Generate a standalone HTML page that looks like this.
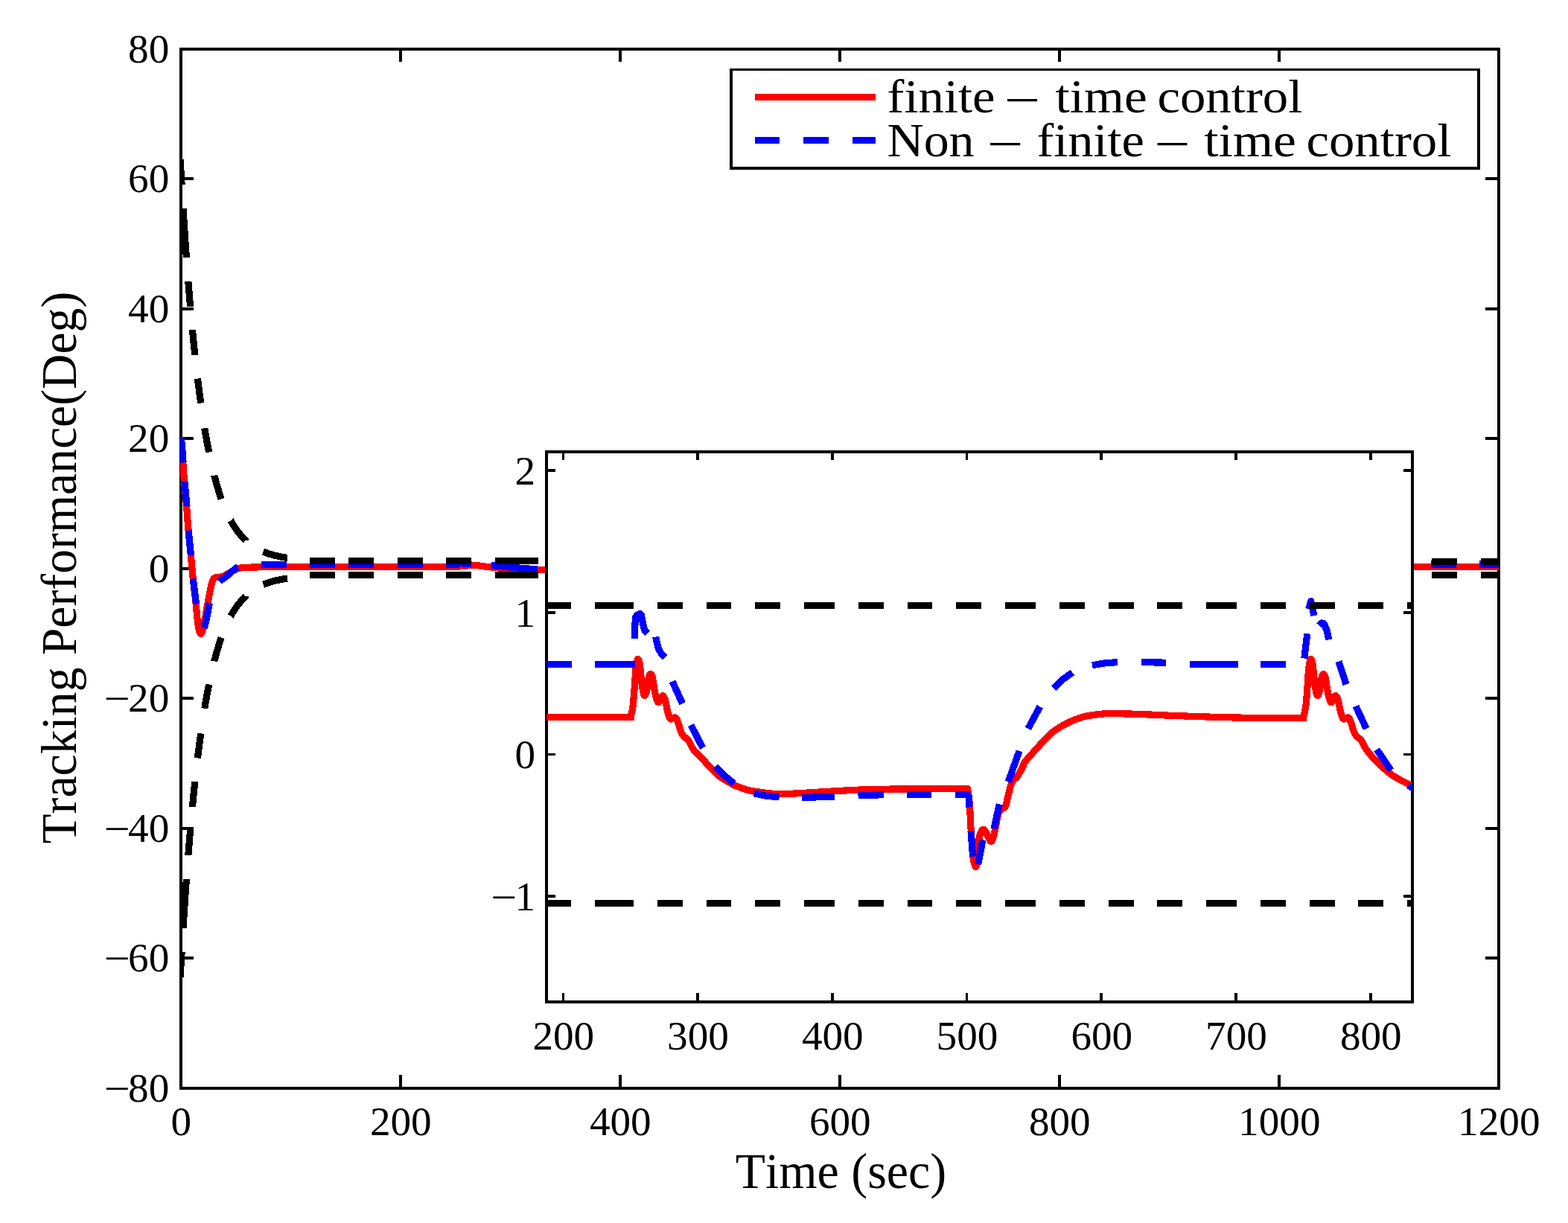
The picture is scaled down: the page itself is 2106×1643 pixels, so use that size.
<!DOCTYPE html>
<html lang="en">
<head>
<meta charset="utf-8">
<title>Tracking Performance - finite-time control vs non-finite-time control</title>
<style>
html, body { margin: 0; padding: 0; background: #ffffff; }
body { width: 2106px; height: 1643px; overflow: hidden; }
svg { display: block; }
svg text { font-family: "Liberation Serif", "DejaVu Serif", serif; white-space: pre; font-kerning: none; font-variant-ligatures: none; }
</style>
</head>
<body>
<svg width="2106" height="1643" viewBox="0 0 2106 1643">
<rect x="0" y="0" width="2106" height="1643" fill="#ffffff"/>
<defs>
<clipPath id="cm"><rect x="242" y="66" width="1771" height="1396"/></clipPath>
<clipPath id="ci"><rect x="734" y="607" width="1163" height="739"/></clipPath>
</defs>
<g id="main-axes" shape-rendering="crispEdges">
<path id="main-frame" fill="#000" d="M241 64H2015V68H241ZM241 1460H2015V1464H241ZM241 64H245V1464H241ZM2011 64H2015V1464H2011ZM536 1444H540V1462H536ZM536 66H540V83H536ZM831 1444H835V1462H831ZM831 66H835V83H831ZM1126 1444H1130V1462H1126ZM1126 66H1130V83H1126ZM1421 1444H1425V1462H1421ZM1421 66H1425V83H1421ZM1716 1444H1720V1462H1716ZM1716 66H1720V83H1716ZM243 238H260V242H243ZM1995 238H2013V242H1995ZM243 413H260V417H243ZM1995 413H2013V417H1995ZM243 587H260V591H243ZM1995 587H2013V591H1995ZM243 762H260V766H243ZM1995 762H2013V766H1995ZM243 936H260V940H243ZM1995 936H2013V940H1995ZM243 1111H260V1115H243ZM1995 1111H2013V1115H1995ZM243 1285H260V1289H243ZM1995 1285H2013V1289H1995Z"/>
<g id="main-curves" clip-path="url(#cm)" stroke-linejoin="round">
<path d="M243 588 L243.2 590.2 L243.5 593.1 L243.8 596.7 L244.2 600.7 L244.6 605.2 L245 610 L245.4 615.3 L245.8 621.4 L246.2 627.8 L246.7 634.4 L247.1 640.9 L247.6 647 L248.1 652.7 L248.6 658.3 L249.1 663.8 L249.6 669.2 L250.1 674.6 L250.6 680 L251 685.4 L251.4 690.8 L251.8 696.2 L252.2 701.6 L252.6 707 L253.1 712.5 L253.6 718 L254.1 723.6 L254.7 729.2 L255.2 734.8 L255.8 740.3 L256.3 745.8 L256.8 751.2 L257.3 756.6 L257.8 761.9 L258.3 767.2 L258.8 772.3 L259.3 777.4 L259.8 782.4 L260.4 787.4 L261 792.4 L261.6 797.1 L262.1 801.7 L262.6 806 L263 810 L263.4 813.7 L263.7 817.3 L264 820.7 L264.3 823.9 L264.6 827 L264.9 830 L265.2 833 L265.6 835.8 L265.9 838.4 L266.2 840.8 L266.6 843 L267 845 L267.5 846.9 L267.9 848.5 L268.4 849.9 L268.9 850.9 L269.4 851.3 L269.9 851.3 L270.4 850.9 L270.9 850.1 L271.4 848.9 L272 847.2 L272.6 845 L273.3 842.1 L274 838.6 L274.7 834.6 L275.5 830.4 L276.3 826.1 L277 822 L277.7 818 L278.5 813.8 L279.2 809.6 L279.9 805.5 L280.6 801.6 L281.3 798 L282 794.6 L282.7 791.4 L283.3 788.3 L284 785.5 L284.6 783 L285.2 781 L285.8 779.4 L286.3 778.3 L286.8 777.6 L287.3 777 L287.9 776.6 L288.5 776.2 L289.2 775.9 L289.9 775.7 L290.7 775.6 L291.5 775.6 L292.4 775.6 L293.3 775.5 L294.3 775.3 L295.3 775.2 L296.3 775 L297.5 774.8 L298.7 774.5 L300 774 L301.5 773.3 L303.1 772.4 L304.8 771.5 L306.5 770.4 L308.3 769.4 L310 768.5 L311.7 767.6 L313.4 766.7 L315.1 765.7 L316.9 764.9 L318.7 764.1 L320.6 763.5 L322.5 763.1 L324.5 762.8 L326.6 762.6 L328.7 762.5 L330.8 762.4 L333 762.3 L335 762.2 L336.8 762.1 L338.6 762 L340.7 762 L343.4 762 L346.8 761.9 L351.1 761.8 L356 761.8 L361.5 761.7 L367.4 761.6 L373.6 761.5 L380 761.5 L387.3 761.5 L395.7 761.5 L404.4 761.5 L412.7 761.5 L419.7 761.5 L424.7 761.5 L600 761.5 L616 761.5 L620 759.5 L624 760.5 L632 759 L640 759.5 L655 761.5 L670 763 L690 764.5 L725 765.8 L740 766" stroke="#ff0000" stroke-width="9.2" fill="none" />
<path d="M1890 761.5 L2015 761.5" stroke="#ff0000" stroke-width="9.2" fill="none" />
<path d="M243.2 587 L243.4 589.3 L243.7 592.4 L244.1 596.2 L244.5 600.4 L244.9 605.1 L245.3 610 L245.7 615.4 L246.1 621.4" stroke="#0000ff" stroke-width="9.2" fill="none" />
<path d="M248 647 L248.5 652.7 L249 658.3 L249.5 663.8 L250 669.2 L250.5 674.6 L251 680" stroke="#0000ff" stroke-width="9.2" fill="none" />
<path d="M253.2 712.5 L253.7 718 L254.2 723.6 L254.8 729.2 L255.3 734.8 L255.9 740.3 L256.4 745.8" stroke="#0000ff" stroke-width="9.2" fill="none" />
<path d="M259.4 777.4 L260 783 L260.7 788.9 L261.5 794.9 L262.2 800.8 L262.9 806.3 L263.6 811.5" stroke="#0000ff" stroke-width="9.2" fill="none" />
<path d="M274.3 843.7 L274.9 841.7 L275.5 839.4 L276.2 836.7 L276.8 833.8 L277.4 830.9 L278 828 L278.6 825.1 L279.1 822.2 L279.7 819.1 L280.3 816.1 L280.9 813 L281.6 810" stroke="#0000ff" stroke-width="9.2" fill="none" />
<path d="M294.7 781.3 L296.2 779.9 L297.8 778.6 L299.4 777.5 L301.2 776.3 L303 775 L305 773.5 L307.2 771.7 L309.5 769.6 L312 767.4 L314.5 765.2 L317.1 763.3 L319.6 761.9" stroke="#0000ff" stroke-width="9.2" fill="none" />
<path d="M351 758.8 L355.6 758.7 L361 758.7 L366.8 758.6 L372.9 758.6 L379.1 758.5 L385 758.5" stroke="#0000ff" stroke-width="9.2" fill="none" />
<path d="M416 758.5 L450 758.5" stroke="#0000ff" stroke-width="9.2" fill="none" />
<path d="M468 758.5 L502 758.5" stroke="#0000ff" stroke-width="9.2" fill="none" />
<path d="M534 758.5 L568 758.5" stroke="#0000ff" stroke-width="9.2" fill="none" />
<path d="M599 758.5 L614 758.5 L619.5 753.5 L623 757.5 L633 757" stroke="#0000ff" stroke-width="9.2" fill="none" />
<path d="M660 759.5 L690 762.5 L722 765" stroke="#0000ff" stroke-width="9.2" fill="none" />
<path d="M1922 758 L1956 758" stroke="#0000ff" stroke-width="9.2" fill="none" />
<path d="M1987 758 L2016 758" stroke="#0000ff" stroke-width="9.2" fill="none" />
<path d="M242.1 214 L242.8 226.8 L243.6 239.8 L244.1 248" stroke="#000000" stroke-width="9.2" fill="none" />
<path d="M242.1 1313 L242.8 1300.2 L243.6 1287.2 L244.1 1279" stroke="#000000" stroke-width="9.2" fill="none" />
<path d="M246 280 L246.5 288.7 L247.3 300.1 L248 311.3 L248.7 322.2 L249.5 332.9 L250.2 343.3 L250.4 346" stroke="#000000" stroke-width="9.2" fill="none" />
<path d="M246 1247 L246.5 1238.3 L247.3 1226.9 L248 1215.7 L248.7 1204.8 L249.5 1194.1 L250.2 1183.7 L250.4 1181" stroke="#000000" stroke-width="9.2" fill="none" />
<path d="M252.8 378 L253.2 382.3 L253.9 391.5 L254.6 400.4 L255.4 409.1 L255.6 412" stroke="#000000" stroke-width="9.2" fill="none" />
<path d="M252.8 1149 L253.2 1144.7 L253.9 1135.5 L254.6 1126.6 L255.4 1117.9 L255.6 1115" stroke="#000000" stroke-width="9.2" fill="none" />
<path d="M258.4 443 L259.1 449.6 L259.8 457.1 L260.5 464.4 L261.3 471.6 L261.9 477" stroke="#000000" stroke-width="9.2" fill="none" />
<path d="M258.4 1084 L259.1 1077.4 L259.8 1069.9 L260.5 1062.6 L261.3 1055.4 L261.9 1050" stroke="#000000" stroke-width="9.2" fill="none" />
<path d="M265.4 508.6 L265.7 510.8 L266.4 516.8 L267.2 522.7 L267.9 528.4 L268.7 533.9 L269.4 539.3 L269.7 541.6" stroke="#000000" stroke-width="9.2" fill="none" />
<path d="M265.4 1018.4 L265.7 1016.2 L266.4 1010.2 L267.2 1004.3 L267.9 998.6 L268.7 993.1 L269.4 987.7 L269.7 985.4" stroke="#000000" stroke-width="9.2" fill="none" />
<path d="M274.8 575.2 L275.3 578.2 L276 582.5 L276.8 586.7 L277.5 590.8 L278.2 594.9 L279 598.8 L279.7 602.6 L280.5 606.3 L280.7 607.6" stroke="#000000" stroke-width="9.2" fill="none" />
<path d="M274.8 951.8 L275.3 948.8 L276 944.5 L276.8 940.3 L277.5 936.2 L278.2 932.1 L279 928.2 L279.7 924.4 L280.5 920.7 L280.7 919.4" stroke="#000000" stroke-width="9.2" fill="none" />
<path d="M287.8 638.6 L287.8 638.9 L288.6 641.7 L289.3 644.5 L290 647.2 L290.8 649.8 L291.5 652.3 L292.2 654.8 L293 657.3 L293.7 659.7 L294.5 662 L295.2 664.2 L295.9 666.4 L296.7 668.6 L297.3 670.5" stroke="#000000" stroke-width="9.2" fill="none" />
<path d="M287.8 888.4 L287.8 888.1 L288.6 885.3 L289.3 882.5 L290 879.8 L290.8 877.2 L291.5 874.7 L292.2 872.2 L293 869.7 L293.7 867.3 L294.5 865 L295.2 862.8 L295.9 860.6 L296.7 858.4 L297.3 856.5" stroke="#000000" stroke-width="9.2" fill="none" />
<path d="M309.9 699.3 L310 699.4 L310.7 700.7 L311.4 702 L312.2 703.3 L312.9 704.5 L313.6 705.7 L314.4 706.9 L315.1 708 L315.9 709.2 L316.6 710.3 L317.3 711.3 L318.1 712.4 L318.8 713.4 L319.5 714.4 L320.3 715.3 L321 716.3 L321.8 717.2 L322.5 718.1 L323.2 719 L324 719.8 L324.7 720.7 L325.4 721.5 L326.2 722.3 L326.9 723 L327.7 723.8 L328.4 724.5 L329.1 725.2 L329.9 725.9 L329.9 726" stroke="#000000" stroke-width="9.2" fill="none" />
<path d="M309.9 827.7 L310 827.6 L310.7 826.3 L311.4 825 L312.2 823.7 L312.9 822.5 L313.6 821.3 L314.4 820.1 L315.1 819 L315.9 817.8 L316.6 816.7 L317.3 815.7 L318.1 814.6 L318.8 813.6 L319.5 812.6 L320.3 811.7 L321 810.7 L321.8 809.8 L322.5 808.9 L323.2 808 L324 807.2 L324.7 806.3 L325.4 805.5 L326.2 804.7 L326.9 804 L327.7 803.2 L328.4 802.5 L329.1 801.8 L329.9 801.1 L329.9 801" stroke="#000000" stroke-width="9.2" fill="none" />
<path d="M353.6 741.2 L354.2 741.4 L354.9 741.7 L355.7 742 L356.4 742.3 L357.2 742.6 L357.9 742.8 L358.6 743.1 L359.4 743.4 L360.1 743.6 L360.8 743.9 L361.6 744.1 L362.3 744.3 L363.1 744.6 L363.8 744.8 L364.5 745 L365.3 745.2 L366 745.4 L366.7 745.6 L367.5 745.8 L368.2 746 L369 746.2 L369.7 746.4 L370.4 746.5 L371.2 746.7 L371.9 746.9 L372.6 747 L373.4 747.2 L374.1 747.4 L374.9 747.5 L375.6 747.7 L376.3 747.8 L377.1 747.9 L377.8 748.1 L378.5 748.2 L379.3 748.3 L380 748.5 L380.8 748.6 L381.5 748.7 L382.2 748.8 L383 748.9 L383.7 749.1 L384.4 749.2 L385.2 749.3 L385.9 749.4 L386 749.4" stroke="#000000" stroke-width="9.2" fill="none" />
<path d="M353.6 785.3 L354.2 785.1 L354.9 784.8 L355.7 784.5 L356.4 784.2 L357.2 783.9 L357.9 783.7 L358.6 783.4 L359.4 783.1 L360.1 782.9 L360.8 782.6 L361.6 782.4 L362.3 782.2 L363.1 781.9 L363.8 781.7 L364.5 781.5 L365.3 781.3 L366 781.1 L366.7 780.9 L367.5 780.7 L368.2 780.5 L369 780.3 L369.7 780.1 L370.4 780 L371.2 779.8 L371.9 779.6 L372.6 779.5 L373.4 779.3 L374.1 779.1 L374.9 779 L375.6 778.8 L376.3 778.7 L377.1 778.6 L377.8 778.4 L378.5 778.3 L379.3 778.2 L380 778 L380.8 777.9 L381.5 777.8 L382.2 777.7 L383 777.6 L383.7 777.4 L384.4 777.3 L385.2 777.2 L385.9 777.1 L386 777.1" stroke="#000000" stroke-width="9.2" fill="none" />
<path d="M416 753.5 L450 753.5" stroke="#000000" stroke-width="9.2" fill="none" />
<path d="M416 772.5 L450 772.5" stroke="#000000" stroke-width="9.2" fill="none" />
<path d="M468 753.5 L502 753.5" stroke="#000000" stroke-width="9.2" fill="none" />
<path d="M468 772.5 L502 772.5" stroke="#000000" stroke-width="9.2" fill="none" />
<path d="M534 753.5 L568 753.5" stroke="#000000" stroke-width="9.2" fill="none" />
<path d="M534 772.5 L568 772.5" stroke="#000000" stroke-width="9.2" fill="none" />
<path d="M599 753.5 L633 753.5" stroke="#000000" stroke-width="9.2" fill="none" />
<path d="M599 772.5 L633 772.5" stroke="#000000" stroke-width="9.2" fill="none" />
<path d="M665 753.5 L723 753.5" stroke="#000000" stroke-width="9.2" fill="none" />
<path d="M665 772.5 L723 772.5" stroke="#000000" stroke-width="9.2" fill="none" />
<path d="M1923 754.5 L1957 754.5" stroke="#000000" stroke-width="9.2" fill="none" />
<path d="M1923 772.5 L1957 772.5" stroke="#000000" stroke-width="9.2" fill="none" />
<path d="M1989 754.5 L2016 754.5" stroke="#000000" stroke-width="9.2" fill="none" />
<path d="M1989 772.5 L2016 772.5" stroke="#000000" stroke-width="9.2" fill="none" />
</g>
</g>
<g id="inset-axes" shape-rendering="crispEdges">
<rect x="732" y="605" width="1167" height="743" fill="#fff"/>
<path id="inset-frame" fill="#000" d="M732 605H1899V609H732ZM732 1344H1899V1348H732ZM732 605H736V1348H732ZM1895 605H1899V1348H1895ZM755 1334H758V1346H755ZM755 607H758V618H755ZM935 1334H939V1346H935ZM935 607H939V618H935ZM1116 1334H1120V1346H1116ZM1116 607H1120V618H1116ZM1297 1334H1300V1346H1297ZM1297 607H1300V618H1297ZM1477 1334H1481V1346H1477ZM1477 607H1481V618H1477ZM1658 1334H1662V1346H1658ZM1658 607H1662V618H1658ZM1839 1334H1843V1346H1839ZM1839 607H1843V618H1839ZM734 630H746V634H734ZM1885 630H1897V634H1885ZM734 821H746V825H734ZM1885 821H1897V825H1885ZM734 1012H746V1015H734ZM1885 1012H1897V1015H1885ZM734 1202H746V1206H734ZM1885 1202H1897V1206H1885Z"/>
<g id="inset-curves" clip-path="url(#ci)" stroke-linejoin="round">
<path d="M730 963.7 L846.9 963.7 L847.3 961.8 L848 959.3 L848.7 956.2 L849.4 952.7 L850 949 L850.5 944.9 L850.9 940.2 L851.3 935.3 L851.7 930.3 L852.1 925.4 L852.5 920.5 L852.8 915.3 L853.1 910.3 L853.4 905.6 L853.7 901.6 L854 898.4 L854.3 895.7 L854.7 893.6 L855 891.7 L855.3 890 L855.6 888.5 L855.9 887.1 L856.1 886.1 L856.4 885.5 L856.8 885.4 L857.2 885.7 L857.7 886.3 L858.2 887.4 L858.7 889.3 L859.2 892 L859.7 896.1 L860.3 901.5 L860.8 907.4 L861.4 913.1 L862 918 L862.6 922.2 L863.3 926.2 L864 929.7 L864.6 932.4 L865.3 934 L865.9 934.4 L866.6 933.8 L867.2 932.3 L867.9 930.3 L868.5 928 L869.1 925 L869.7 921 L870.4 916.8 L870.9 912.9 L871.5 910 L872 908.1 L872.5 906.7 L872.9 905.9 L873.3 905.5 L873.8 905.5 L874.3 905.7 L874.8 906.2 L875.3 907.2 L875.9 908.7 L876.5 911 L877.1 914.4 L877.8 918.7 L878.5 923.5 L879.3 928.2 L880 932 L880.8 935.1 L881.5 938 L882.3 940.4 L883.1 942.3 L883.8 943.5 L884.5 943.8 L885.1 943.3 L885.7 942.2 L886.4 941.1 L887 940 L887.6 938.9 L888.3 937.5 L888.9 936.1 L889.6 935 L890.2 934.7 L890.9 935.1 L891.5 935.9 L892.2 937.2 L892.8 938.9 L893.5 941 L894.2 943.7 L894.9 947.1 L895.6 950.7 L896.3 954.1 L897 957 L897.6 959.3 L898.3 961.4 L898.9 963.2 L899.5 964.6 L900.2 965.6 L900.9 966 L901.7 965.8 L902.4 965.3 L903.2 964.8 L904 964.5 L904.8 964.3 L905.6 964.1 L906.4 963.9 L907.2 964 L908 964.6 L908.7 965.7 L909.4 967.2 L910.1 969.1 L910.8 971 L911.5 973 L912.2 975.1 L912.9 977.4 L913.6 979.7 L914.3 981.9 L915 983.8 L915.8 985.4 L916.5 986.7 L917.3 987.9 L918.1 989 L919 990 L919.9 990.8 L920.8 991.2 L921.7 991.7 L922.8 992.4 L924 993.8 L925.4 996 L926.9 998.9 L928.5 1002 L930.2 1005.1 L932 1007.8 L933.9 1010 L935.9 1012 L937.9 1013.9 L940 1015.8 L942 1017.8 L943.9 1019.9 L945.8 1021.9 L947.6 1024.1 L949.7 1026.3 L951.9 1028.7 L954.3 1031.3 L956.9 1034.2 L959.7 1037.1 L962.7 1040 L965.9 1042.7 L969.8 1045.4 L974.4 1048.2 L979 1050.9 L983 1053.1 L985.8 1054.7 L989.1 1056 L993.8 1057.8 L999 1059.8 L1003.8 1061.3 L1007.8 1062.3 L1011.7 1062.9 L1015.6 1063.4 L1019.8 1064 L1024.5 1064.7 L1029.5 1065.3 L1034.6 1065.9 L1039.7 1066.3 L1044.2 1066.5 L1048.5 1066.6 L1053.3 1066.6 L1059.7 1066.4 L1067.8 1066 L1077.2 1065.5 L1087.8 1064.8 L1099.6 1064.1 L1113.2 1063.3 L1128.3 1062.4 L1144.1 1061.5 L1159.5 1060.8 L1174 1060.4 L1188.2 1060.2 L1203 1060 L1219.4 1059.9 L1239.8 1059.7 L1263 1059.6 L1284.4 1059.5 L1299.2 1059.4 L1299.6 1059.4 L1299.8 1060.9 L1300.1 1063.1 L1300.5 1065.7 L1300.9 1068.4 L1301.2 1071 L1301.5 1073.3 L1301.8 1075.3 L1302 1077.6 L1302.3 1080.5 L1302.6 1084.5 L1302.9 1089.8 L1303.2 1096.3 L1303.5 1103.3 L1303.9 1110.6 L1304.3 1117.6 L1304.8 1124.8 L1305.4 1132.4 L1305.9 1139.8 L1306.5 1146.5 L1307 1151.7 L1307.4 1155.2 L1307.8 1157.3 L1308.1 1158.6 L1308.4 1159.5 L1308.8 1160.5 L1309.2 1161.8 L1309.7 1163.1 L1310.2 1164.1 L1310.7 1164.6 L1311.1 1164.2 L1311.5 1163 L1311.9 1161 L1312.3 1158.5 L1312.6 1155.4 L1313 1152 L1313.4 1147.7 L1313.7 1142.6 L1314.1 1137.2 L1314.4 1132.2 L1314.9 1128 L1315.4 1124.8 L1316 1122.3 L1316.7 1120.2 L1317.3 1118.4 L1318 1117 L1318.7 1115.8 L1319.4 1115 L1320.2 1114.4 L1321 1114.3 L1321.8 1114.6 L1322.6 1115.4 L1323.5 1116.8 L1324.4 1118.5 L1325.3 1120.3 L1326.2 1122 L1327.1 1123.9 L1328.1 1126 L1329 1128.1 L1329.9 1129.7 L1330.8 1130.4 L1331.6 1130.1 L1332.4 1129.1 L1333.2 1127.5 L1333.9 1125.7 L1334.5 1124 L1335 1122.4 L1335.4 1120.8 L1335.7 1119 L1336.1 1116.9 L1336.6 1114.3 L1337.2 1110.9 L1338 1106.7 L1338.8 1102.3 L1339.6 1098.3 L1340.4 1095 L1341.2 1092.7 L1341.9 1091 L1342.7 1089.7 L1343.6 1088.6 L1344.5 1087.5 L1345.6 1086.6 L1346.9 1085.9 L1348.2 1085.3 L1349.4 1084.5 L1350.5 1083 L1351.3 1080.9 L1352 1078.3 L1352.6 1075.3 L1353.2 1072.2 L1354 1069 L1354.9 1065.5 L1355.9 1061.6 L1356.9 1057.7 L1358.1 1054 L1359.3 1051 L1360.6 1048.8 L1362.1 1047.3 L1363.6 1046.1 L1365.1 1044.8 L1366.6 1043 L1368.1 1040.6 L1369.7 1037.9 L1371.3 1035 L1372.7 1032.3 L1373.9 1030 L1374.5 1028.5 L1374.6 1027.5 L1374.7 1026.6 L1375.3 1025.4 L1376.8 1023.2 L1379.5 1019.9 L1383.1 1015.8 L1387.2 1011.3 L1391.3 1006.7 L1395.2 1002.5 L1398.7 998.6 L1402.1 994.8 L1405.6 991.1 L1409.1 987.6 L1412.8 984.3 L1416.7 981.3 L1420.9 978.5 L1425.1 976 L1429.3 973.6 L1433.5 971.4 L1437.6 969.4 L1441.8 967.6 L1445.9 966 L1450.1 964.6 L1454.2 963.3 L1458.4 962.2 L1462.7 961.4 L1467 960.7 L1471.1 960.2 L1474.9 959.7 L1478 959.3 L1480.4 959.1 L1482.8 958.9 L1485.8 958.8 L1490 958.8 L1495.4 958.8 L1501.4 958.8 L1508.3 958.9 L1516.3 959 L1525.6 959.3 L1536.5 959.7 L1548.8 960.2 L1562.1 960.8 L1575.9 961.4 L1589.6 961.9 L1603 962.4 L1616.6 962.8 L1630.5 963.3 L1645 963.7 L1660.4 964 L1678.4 964.3 L1698.7 964.5 L1719 964.6 L1736.5 964.7 L1748.8 964.8 L1750.4 964.8 L1750.9 962.8 L1751.6 960 L1752.3 956.6 L1753.1 952.9 L1753.8 949 L1754.3 944.8 L1754.7 940.1 L1755.1 935.2 L1755.5 930.3 L1755.8 925.4 L1756.2 920.5 L1756.5 915.3 L1756.8 910.3 L1757.1 905.6 L1757.5 901.6 L1757.8 898.4 L1758.1 895.7 L1758.4 893.6 L1758.7 891.7 L1759 890 L1759.3 888.5 L1759.6 887.1 L1759.9 886.1 L1760.2 885.5 L1760.5 885.4 L1761 885.7 L1761.4 886.3 L1761.9 887.4 L1762.4 889.3 L1763 892 L1763.5 896.1 L1764 901.5 L1764.6 907.4 L1765.2 913.1 L1765.8 918 L1766.4 922.2 L1767 926.2 L1767.7 929.7 L1768.4 932.4 L1769 934 L1769.7 934.4 L1770.3 933.8 L1771 932.3 L1771.6 930.3 L1772.2 928 L1772.9 925 L1773.5 921 L1774.1 916.8 L1774.7 912.9 L1775.2 910 L1775.7 908.1 L1776.2 906.7 L1776.6 905.9 L1777.1 905.5 L1777.5 905.5 L1778.1 905.7 L1778.6 906.2 L1779.1 907.2 L1779.7 908.7 L1780.2 911 L1780.9 914.4 L1781.6 918.7 L1782.3 923.5 L1783 928.2 L1783.8 932 L1784.5 935.1 L1785.3 938 L1786.1 940.4 L1786.8 942.3 L1787.5 943.5 L1788.2 943.8 L1788.9 943.3 L1789.5 942.2 L1790.1 941.1 L1790.8 940 L1791.4 938.9 L1792 937.5 L1792.7 936.1 L1793.3 935 L1794 934.7 L1794.6 935.1 L1795.3 935.9 L1795.9 937.2 L1796.6 938.9 L1797.2 941 L1797.9 943.7 L1798.6 947.1 L1799.4 950.7 L1800.1 954.1 L1800.8 957 L1801.4 959.3 L1802 961.4 L1802.6 963.2 L1803.3 964.6 L1804 965.6 L1804.7 966 L1805.4 965.8 L1806.2 965.3 L1807 964.8 L1807.8 964.5 L1808.5 964.3 L1809.4 964.1 L1810.2 963.9 L1811 964 L1811.8 964.6 L1812.5 965.7 L1813.2 967.2 L1813.9 969.1 L1814.6 971 L1815.2 973 L1815.9 975.1 L1816.6 977.4 L1817.3 979.7 L1818 981.9 L1818.8 983.8 L1819.5 985.4 L1820.3 986.7 L1821.1 987.9 L1821.9 989 L1822.8 990 L1823.6 990.8 L1824.5 991.2 L1825.5 991.7 L1826.5 992.4 L1827.8 993.8 L1829.1 995.9 L1830.5 998.6 L1832 1001.6 L1833.7 1004.7 L1835.8 1007.8 L1838 1010.8 L1840.6 1014 L1843.4 1017.2 L1846.3 1020.4 L1849.3 1023.5 L1852.5 1026.7 L1856.1 1030 L1859.6 1033.2 L1863.1 1036.2 L1866.4 1038.8 L1869.3 1041 L1872.1 1042.8 L1874.7 1044.4 L1877.3 1045.9 L1880 1047.4 L1882.8 1048.9 L1885.8 1050.4 L1888.7 1051.9 L1891.3 1053.1 L1893.6 1054.2 L1895.4 1055.1 L1897 1055.7 L1898.2 1056.3 L1899.2 1056.7 L1900 1057" stroke="#ff0000" stroke-width="9.2" fill="none" />
<path d="M840 963.7 L851.6 963.7" stroke="#ff0000" stroke-width="9.2" fill="none" />
<path d="M1744 964.8 L1755.1 964.8" stroke="#ff0000" stroke-width="9.2" fill="none" />
<path d="M730 892.5 L768 892.5" stroke="#0000ff" stroke-width="9.2" fill="none" />
<path d="M799 892.5 L852.8 892.5" stroke="#0000ff" stroke-width="9.2" fill="none" />
<path d="M852.2 857.8 L853 838 L853.6 829.5 L856 826 L859.5 824.4 L861.3 826 L862.3 831 L863.5 838.3 L865.8 846.5 L869.8 850.8" stroke="#0000ff" stroke-width="9.2" fill="none" />
<path d="M880.6 855.5 L882.2 863 L884.3 871 L888.3 878.5 L893.2 883.5" stroke="#0000ff" stroke-width="9.2" fill="none" />
<path d="M903 915.3 L916.6 945.2" stroke="#0000ff" stroke-width="9.2" fill="none" />
<path d="M928 974 L943.9 1004.8" stroke="#0000ff" stroke-width="9.2" fill="none" />
<path d="M960.9 1029.7 L973 1042 L985.8 1052.7" stroke="#0000ff" stroke-width="9.2" fill="none" />
<path d="M1012.8 1065.7 L1030 1069.5 L1046.7 1070.7" stroke="#0000ff" stroke-width="9.2" fill="none" />
<path d="M1077.2 1071.5 L1120.6 1070.1" stroke="#0000ff" stroke-width="9.2" fill="none" />
<path d="M1152.5 1068.7 L1187.4 1067.7" stroke="#0000ff" stroke-width="9.2" fill="none" />
<path d="M1218 1067.7 L1250.7 1067.3" stroke="#0000ff" stroke-width="9.2" fill="none" />
<path d="M1283.2 1067.4 L1299 1067.5 L1301 1069 L1301.6 1084.5" stroke="#0000ff" stroke-width="9.2" fill="none" />
<path d="M1304 1116.5 L1306.6 1150.6" stroke="#0000ff" stroke-width="9.2" fill="none" />
<path d="M1313.7 1161.2 L1320 1128.2" stroke="#0000ff" stroke-width="9.2" fill="none" />
<path d="M1335 1113.3 L1342.4 1080.3" stroke="#0000ff" stroke-width="9.2" fill="none" />
<path d="M1354.2 1050.4 L1369 1008.9" stroke="#0000ff" stroke-width="9.2" fill="none" />
<path d="M1380.8 979 L1396.8 949.2" stroke="#0000ff" stroke-width="9.2" fill="none" />
<path d="M1414.9 924.7 L1427 913 L1440.4 903.4" stroke="#0000ff" stroke-width="9.2" fill="none" />
<path d="M1467 893.8 L1484 890.8 L1501.1 889.6" stroke="#0000ff" stroke-width="9.2" fill="none" />
<path d="M1533.1 889.6 L1566.1 890.2" stroke="#0000ff" stroke-width="9.2" fill="none" />
<path d="M1598.2 892.3 L1663.4 892.3" stroke="#0000ff" stroke-width="9.2" fill="none" />
<path d="M1693.1 892.8 L1726.7 892.8" stroke="#0000ff" stroke-width="9.2" fill="none" />
<path d="M1751.8 884.5 L1755.8 851.3" stroke="#0000ff" stroke-width="9.2" fill="none" />
<path d="M1757.8 818.2 L1760.8 807.6 L1764.8 827.2" stroke="#0000ff" stroke-width="9.2" fill="none" />
<path d="M1772 840.5 L1775 837 L1778.5 838 L1782 847 L1784.9 859.4" stroke="#0000ff" stroke-width="9.2" fill="none" />
<path d="M1798 888.5 L1808 919.6" stroke="#0000ff" stroke-width="9.2" fill="none" />
<path d="M1821 948.7 L1835.1 978.8" stroke="#0000ff" stroke-width="9.2" fill="none" />
<path d="M1849.2 1006.9 L1868.2 1035" stroke="#0000ff" stroke-width="9.2" fill="none" />
<path d="M1891.3 1055.1 L1900 1060" stroke="#0000ff" stroke-width="9.2" fill="none" />
<path d="M730 813.3 L767 813.3" stroke="#000000" stroke-width="9.2" fill="none" />
<path d="M730 1213.4 L767 1213.4" stroke="#000000" stroke-width="9.2" fill="none" />
<path d="M799 813.3 L851 813.3" stroke="#000000" stroke-width="9.2" fill="none" />
<path d="M799 1213.4 L851 1213.4" stroke="#000000" stroke-width="9.2" fill="none" />
<path d="M883 813.3 L917 813.3" stroke="#000000" stroke-width="9.2" fill="none" />
<path d="M883 1213.4 L917 1213.4" stroke="#000000" stroke-width="9.2" fill="none" />
<path d="M949 813.3 L982 813.3" stroke="#000000" stroke-width="9.2" fill="none" />
<path d="M949 1213.4 L982 1213.4" stroke="#000000" stroke-width="9.2" fill="none" />
<path d="M1014 813.3 L1048 813.3" stroke="#000000" stroke-width="9.2" fill="none" />
<path d="M1014 1213.4 L1048 1213.4" stroke="#000000" stroke-width="9.2" fill="none" />
<path d="M1080 813.3 L1121 813.3" stroke="#000000" stroke-width="9.2" fill="none" />
<path d="M1080 1213.4 L1121 1213.4" stroke="#000000" stroke-width="9.2" fill="none" />
<path d="M1153 813.3 L1187 813.3" stroke="#000000" stroke-width="9.2" fill="none" />
<path d="M1153 1213.4 L1187 1213.4" stroke="#000000" stroke-width="9.2" fill="none" />
<path d="M1219 813.3 L1252 813.3" stroke="#000000" stroke-width="9.2" fill="none" />
<path d="M1219 1213.4 L1252 1213.4" stroke="#000000" stroke-width="9.2" fill="none" />
<path d="M1284 813.3 L1318 813.3" stroke="#000000" stroke-width="9.2" fill="none" />
<path d="M1284 1213.4 L1318 1213.4" stroke="#000000" stroke-width="9.2" fill="none" />
<path d="M1350 813.3 L1391 813.3" stroke="#000000" stroke-width="9.2" fill="none" />
<path d="M1350 1213.4 L1391 1213.4" stroke="#000000" stroke-width="9.2" fill="none" />
<path d="M1423 813.3 L1457 813.3" stroke="#000000" stroke-width="9.2" fill="none" />
<path d="M1423 1213.4 L1457 1213.4" stroke="#000000" stroke-width="9.2" fill="none" />
<path d="M1489 813.3 L1523 813.3" stroke="#000000" stroke-width="9.2" fill="none" />
<path d="M1489 1213.4 L1523 1213.4" stroke="#000000" stroke-width="9.2" fill="none" />
<path d="M1554 813.3 L1588 813.3" stroke="#000000" stroke-width="9.2" fill="none" />
<path d="M1554 1213.4 L1588 1213.4" stroke="#000000" stroke-width="9.2" fill="none" />
<path d="M1620 813.3 L1661 813.3" stroke="#000000" stroke-width="9.2" fill="none" />
<path d="M1620 1213.4 L1661 1213.4" stroke="#000000" stroke-width="9.2" fill="none" />
<path d="M1693 813.3 L1727 813.3" stroke="#000000" stroke-width="9.2" fill="none" />
<path d="M1693 1213.4 L1727 1213.4" stroke="#000000" stroke-width="9.2" fill="none" />
<path d="M1759 813.3 L1793 813.3" stroke="#000000" stroke-width="9.2" fill="none" />
<path d="M1759 1213.4 L1793 1213.4" stroke="#000000" stroke-width="9.2" fill="none" />
<path d="M1824 813.3 L1858 813.3" stroke="#000000" stroke-width="9.2" fill="none" />
<path d="M1824 1213.4 L1858 1213.4" stroke="#000000" stroke-width="9.2" fill="none" />
<path d="M1890 813.3 L1900 813.3" stroke="#000000" stroke-width="9.2" fill="none" />
<path d="M1890 1213.4 L1900 1213.4" stroke="#000000" stroke-width="9.2" fill="none" />
</g>
</g>
<g id="legend" shape-rendering="crispEdges">
<rect x="982" y="94" width="1004" height="132" fill="#fff"/>
<path id="legend-frame" fill="#000" d="M980 92H1988V95H980ZM980 224H1988V228H980ZM980 92H984V228H980ZM1984 92H1988V228H1984Z"/>
<path d="M1014 130.5 H1176" stroke="#ff0000" stroke-width="9" fill="none"/>
<path d="M1014 188.5 H1047 M1079 188.5 H1113 M1145 188.5 H1176" stroke="#0000ff" stroke-width="9" fill="none"/>
</g>
<g id="labels" font-family="'Liberation Serif', 'DejaVu Serif', serif" fill="#000">
<text font-size="55.2"><tspan x="227.3" y="83.7" text-anchor="end">80</tspan></text>
<text font-size="55.2"><tspan x="227.3" y="257.7" text-anchor="end">60</tspan></text>
<text font-size="55.2"><tspan x="227.3" y="432.7" text-anchor="end">40</tspan></text>
<text font-size="55.2"><tspan x="227.3" y="606.7" text-anchor="end">20</tspan></text>
<text font-size="55.2"><tspan x="227.3" y="781.7" text-anchor="end">0</tspan></text>
<text font-size="55.2"><tspan x="139.6" y="957.1" textLength="35.1" lengthAdjust="spacingAndGlyphs">−</tspan><tspan x="227.3" y="955.7" text-anchor="end">20</tspan></text>
<text font-size="55.2"><tspan x="139.6" y="1132.1" textLength="35.1" lengthAdjust="spacingAndGlyphs">−</tspan><tspan x="227.3" y="1130.7" text-anchor="end">40</tspan></text>
<text font-size="55.2"><tspan x="139.6" y="1306.1" textLength="35.1" lengthAdjust="spacingAndGlyphs">−</tspan><tspan x="227.3" y="1304.7" text-anchor="end">60</tspan></text>
<text font-size="55.2"><tspan x="139.6" y="1481.1" textLength="35.1" lengthAdjust="spacingAndGlyphs">−</tspan><tspan x="227.3" y="1479.7" text-anchor="end">80</tspan></text>
<text font-size="55.2"><tspan x="243.3" y="1525.2" text-anchor="middle">0</tspan></text>
<text font-size="55.2"><tspan x="538.3" y="1525.2" text-anchor="middle">200</tspan></text>
<text font-size="55.2"><tspan x="833.3" y="1525.2" text-anchor="middle">400</tspan></text>
<text font-size="55.2"><tspan x="1128.3" y="1525.2" text-anchor="middle">600</tspan></text>
<text font-size="55.2"><tspan x="1423.3" y="1525.2" text-anchor="middle">800</tspan></text>
<text font-size="55.2"><tspan x="1718.3" y="1525.2" text-anchor="middle">1000</tspan></text>
<text font-size="55.2"><tspan x="2013.3" y="1525.2" text-anchor="middle">1200</tspan></text>
<text font-size="55.2"><tspan x="719" y="650.6" text-anchor="end">2</tspan></text>
<text font-size="55.2"><tspan x="719" y="841.6" text-anchor="end">1</tspan></text>
<text font-size="55.2"><tspan x="719" y="1032.1" text-anchor="end">0</tspan></text>
<text font-size="55.2"><tspan x="658.9" y="1224" textLength="35.1" lengthAdjust="spacingAndGlyphs">−</tspan><tspan x="719" y="1222.6" text-anchor="end">1</tspan></text>
<text font-size="55.2"><tspan x="756.8" y="1410.2" text-anchor="middle">200</tspan></text>
<text font-size="55.2"><tspan x="937.5" y="1410.2" text-anchor="middle">300</tspan></text>
<text font-size="55.2"><tspan x="1118.3" y="1410.2" text-anchor="middle">400</tspan></text>
<text font-size="55.2"><tspan x="1299" y="1410.2" text-anchor="middle">500</tspan></text>
<text font-size="55.2"><tspan x="1479.8" y="1410.2" text-anchor="middle">600</tspan></text>
<text font-size="55.2"><tspan x="1660.5" y="1410.2" text-anchor="middle">700</tspan></text>
<text font-size="55.2"><tspan x="1841.3" y="1410.2" text-anchor="middle">800</tspan></text>
<text font-size="67.5"><tspan x="987.8" y="1596.2" textLength="283.4" lengthAdjust="spacingAndGlyphs">Time (sec)</tspan></text>
<text transform="translate(101.8 1132.3) rotate(-90)" font-size="67.5" x="-1.2" y="0" textLength="741.8" lengthAdjust="spacingAndGlyphs">Tracking Performance(Deg)</text>
<text font-size="64"><tspan x="1191.5" y="150.6" textLength="145.1" lengthAdjust="spacingAndGlyphs">finite</tspan> <tspan x="1348.7" y="155.8" textLength="48.5" lengthAdjust="spacingAndGlyphs">−</tspan> <tspan x="1417.6" y="150.6" textLength="123.1" lengthAdjust="spacingAndGlyphs">time</tspan> <tspan x="1554.4" y="150.6" textLength="195" lengthAdjust="spacingAndGlyphs">control</tspan></text>
<text font-size="64"><tspan x="1191.6" y="210.2" textLength="117" lengthAdjust="spacingAndGlyphs">Non</tspan> <tspan x="1325.7" y="215.4" textLength="48.8" lengthAdjust="spacingAndGlyphs">−</tspan> <tspan x="1392.5" y="210.2" textLength="144.5" lengthAdjust="spacingAndGlyphs">finite</tspan> <tspan x="1550.2" y="215.4" textLength="48.5" lengthAdjust="spacingAndGlyphs">−</tspan> <tspan x="1617.3" y="210.2" textLength="123.4" lengthAdjust="spacingAndGlyphs">time</tspan> <tspan x="1754.4" y="210.2" textLength="195" lengthAdjust="spacingAndGlyphs">control</tspan></text>
</g>
</svg>
</body>
</html>
